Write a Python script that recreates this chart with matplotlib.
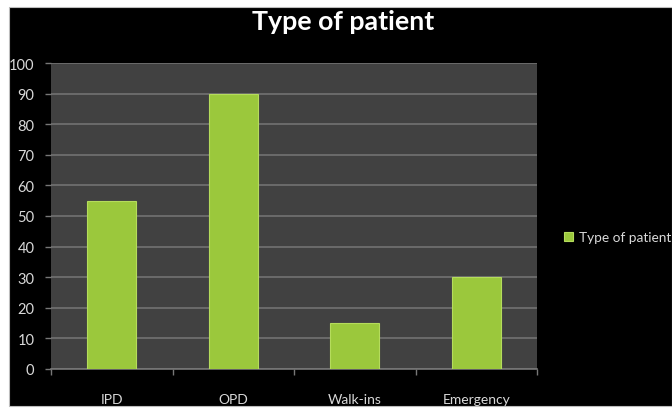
import matplotlib
matplotlib.use("Agg")
import matplotlib.pyplot as plt
from matplotlib.patches import Rectangle

categories = ["IPD", "OPD", "Walk-ins", "Emergency"]
values = [55, 90, 15, 30]
series_name = "Type of patient"
y_ticks = [0, 10, 20, 30, 40, 50, 60, 70, 80, 90, 100]

plt.rcParams["font.family"] = ["Lato", "DejaVu Sans"]

W, H = 672, 410
fig = plt.figure(figsize=(W / 100, H / 100), dpi=100, facecolor="white")

# black chart area inside a thin white margin
fig.patches.append(Rectangle((9 / W, 3 / H), 1 - 9 / W, (407 - 8) / H,
                             transform=fig.transFigure, facecolor="black",
                             edgecolor="#bdbdbd", linewidth=0.8, zorder=-5))

ax = fig.add_axes([51 / W, 40 / H, (537 - 51) / W, (370 - 64) / H])
ax.set_facecolor("#414141")

x = list(range(len(categories)))
bars = ax.bar(x, values, width=0.4, color="#9bc83c", edgecolor="#b5dc5c",
              linewidth=0.8, zorder=3, label=series_name)

ax.set_xlim(-0.5, len(categories) - 0.5)
ax.set_ylim(0, 100)
ax.set_yticks(y_ticks)
ax.yaxis.grid(True, color="#6e6e6e", linewidth=1.3, zorder=1)
ax.set_axisbelow(True)

ax.set_xticks(x)
ax.set_xticklabels(categories)
ax.set_xticks([i - 0.5 for i in range(len(categories) + 1)], minor=True)
ax.tick_params(axis="x", which="major", length=0, pad=17, labelsize=10,
               labelcolor="#d9d9d9")
ax.tick_params(axis="x", which="minor", length=4, color="#777777", width=1)
ax.tick_params(axis="y", length=4, color="#777777", width=1, pad=8,
               labelsize=10.5, labelcolor="#d9d9d9")

for side in ["top", "right", "left"]:
    ax.spines[side].set_visible(False)
ax.spines["bottom"].set_color("#777777")
ax.spines["bottom"].set_linewidth(1.2)

fig.text(343 / W, 1 - 22 / H, "Type of patient", ha="center", va="center",
         fontsize=19.3, fontweight="bold", color="white")

leg = fig.legend(handles=[bars], labels=[series_name],
                 loc="center left", bbox_to_anchor=(559 / W, 1 - 238 / H),
                 frameon=False, fontsize=9.8, handlelength=0.6,
                 handleheight=0.6, handletextpad=0.45, borderaxespad=0)
for t in leg.get_texts():
    t.set_color("#d9d9d9")

fig.savefig("out.png", dpi=100, facecolor="white")
